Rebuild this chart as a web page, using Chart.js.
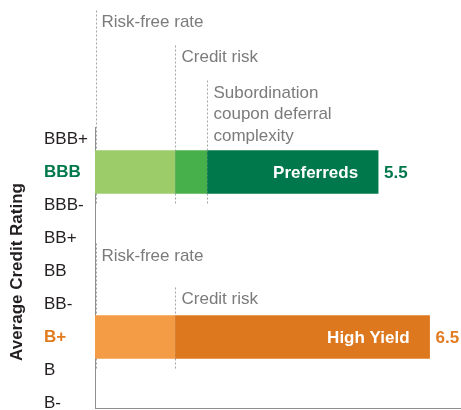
<!DOCTYPE html>
<html><head><meta charset="utf-8">
<script src="https://cdn.jsdelivr.net/npm/chart.js@4"></script>
<style>html,body{margin:0;padding:0;background:#fff;overflow:hidden}#wrap{width:461px;height:410px;position:relative}</style>
</head><body><div id="wrap"><canvas id="c"></canvas></div>
<script>
// ---- data ----
const ratings = ['BBB+','BBB','BBB-','BB+','BB','BB-','B+','B','B-'];
const securities = ['Preferreds','High Yield'];
const securityRating = ['BBB','B+'];
const durations = [5.5, 6.5];
const riskFree = [1.55, 1.55];
const creditRisk = [0.62, 4.95];
const subordination = [3.33, null];
const componentNames = ['Risk-free rate','Credit risk','Subordination\ncoupon deferral\ncomplexity'];
const axisTitle = 'Average Credit Rating';

// ---- styles ----
const FONT = '"Liberation Sans", Arial, Helvetica, sans-serif';
const greens = ['#9ccc6a','#47b04b','#00784c'];
const oranges = ['#f39c45','#de781e'];
const seriesText = ['#00784c','#e07b20'];
const annotGray = '#7b7b7b';
const dashGray = '#a3a3a3';
const axisGray = '#8e8e8e';

function idx(i){ return ratings.indexOf(securityRating[i]); }
function tickRating(c){ return (c && c.tick) ? ratings[c.tick.value] : null; }

// label layout per bar (offsets relative to bar top; styling only)
const annotLayout = [
  {lineTop:[-140,-105,-70], textBase:[-124,-89,-53]},
  {lineTop:[-72,-28], textBase:[-54,-11]}
];

const annot = {
  id:'annot',
  afterDatasetsDraw(chart){
    const ctx = chart.ctx, xs = chart.scales.x;
    ctx.save();
    ctx.lineWidth = 1; ctx.setLineDash([2,2]);
    securities.forEach((s,i)=>{
      const bar = chart.getDatasetMeta(0).data[i];
      const top = bar.y - bar.height/2, bottom = bar.y + bar.height/2;
      const bounds = [0, riskFree[i], riskFree[i] + creditRisk[i]];
      const L = annotLayout[i];
      L.lineTop.forEach((off,k)=>{
        let x = Math.round(xs.getPixelForValue(bounds[k])) + 0.5;
        if (k===0) x += 1;
        ctx.strokeStyle = dashGray; ctx.globalAlpha = 1;
        ctx.beginPath(); ctx.moveTo(x, top + off); ctx.lineTo(x, top); ctx.stroke();
        ctx.beginPath(); ctx.moveTo(x, bottom); ctx.lineTo(x, bottom + 12); ctx.stroke();
        if (k>0) { ctx.globalAlpha = 0.35; ctx.beginPath(); ctx.moveTo(x, top); ctx.lineTo(x, bottom); ctx.stroke(); }
      });
    });
    ctx.restore();
  },
  afterDraw(chart){
    const ctx = chart.ctx, xs = chart.scales.x;
    ctx.save();
    securities.forEach((s,i)=>{
      const meta = chart.getDatasetMeta(0);
      const bar = meta.data[i];
      const top = bar.y - bar.height/2;
      const bounds = [0, riskFree[i], riskFree[i] + creditRisk[i]];
      const L = annotLayout[i];
      ctx.font = '17px ' + FONT; ctx.fillStyle = annotGray; ctx.textAlign='left'; ctx.textBaseline='alphabetic';
      L.textBase.forEach((off,k)=>{
        const x = Math.round(xs.getPixelForValue(bounds[k])) + 6.5;
        componentNames[k].split('\n').forEach((line,j)=>{
          ctx.fillText(line, x, top + off + j*21.5);
        });
      });
      // bar labels
      const endX = xs.getPixelForValue(durations[i]);
      ctx.font = 'bold 17px ' + FONT; ctx.textBaseline = 'middle';
      ctx.fillStyle = '#ffffff'; ctx.textAlign = 'right';
      ctx.fillText(s, endX - 20, bar.y + 1);
      ctx.fillStyle = seriesText[i]; ctx.textAlign = 'left';
      ctx.fillText(String(durations[i]), endX + 6, bar.y + 1);
    });
    // axis title
    ctx.save();
    ctx.translate(17.5, 272); ctx.rotate(-Math.PI/2);
    ctx.font = 'bold 17px ' + FONT; ctx.fillStyle = '#231f20'; ctx.textAlign='center'; ctx.textBaseline='middle';
    ctx.fillText(axisTitle, 0, 0);
    ctx.restore();
    ctx.restore();
  }
};

function pts(arr){ return arr.map((v,i)=>({x:v, y:idx(i)})).filter(p=>p.x!==null); }

new Chart(document.getElementById('c'), {
  type:'bar',
  data:{datasets:[
    {label:componentNames[0], data:pts(riskFree), backgroundColor:[greens[0], oranges[0]]},
    {label:componentNames[1], data:pts(creditRisk), backgroundColor:[greens[1], oranges[1]]},
    {label:componentNames[2], data:pts(subordination), backgroundColor:[greens[2]]}
  ]},
  options:{
    indexAxis:'y', responsive:true, maintainAspectRatio:false, animation:false,
    layout:{padding:{left:44, top:127, right:0, bottom:2}},
    datasets:{bar:{barThickness:43, borderWidth:0}},
    scales:{
      x:{type:'linear', stacked:true, min:0, max:7.11, offset:false,
         grid:{display:false, drawTicks:false}, ticks:{display:false},
         border:{display:true, color:axisGray, width:1},
         afterFit:(s)=>{ s.height = 0; s.paddingLeft = 0; s.paddingRight = 0; }},
      y:{type:'linear', stacked:true, reverse:true, min:-0.364, max:8.152, offset:false,
         grid:{display:false, drawTicks:false, offset:false},
         border:{display:true, color:axisGray, width:1},
         afterBuildTicks:(s)=>{ s.ticks = ratings.map((_,i)=>({value:i})); },
         afterFit:(s)=>{ s.width = 51; s.paddingTop = 0; s.paddingBottom = 0; },
         ticks:{crossAlign:'far', padding:0, autoSkip:false,
           callback:(v)=>ratings[v],
           color:(c)=>{ const k = securityRating.indexOf(tickRating(c)); return k<0 ? '#231f20' : seriesText[k]; },
           font:(c)=>({family:FONT, size:17, weight: securityRating.includes(tickRating(c)) ? 'bold':'normal'})
         }}
    },
    plugins:{legend:{display:false}, tooltip:{enabled:false}}
  },
  plugins:[annot]
});
</script></body></html>
